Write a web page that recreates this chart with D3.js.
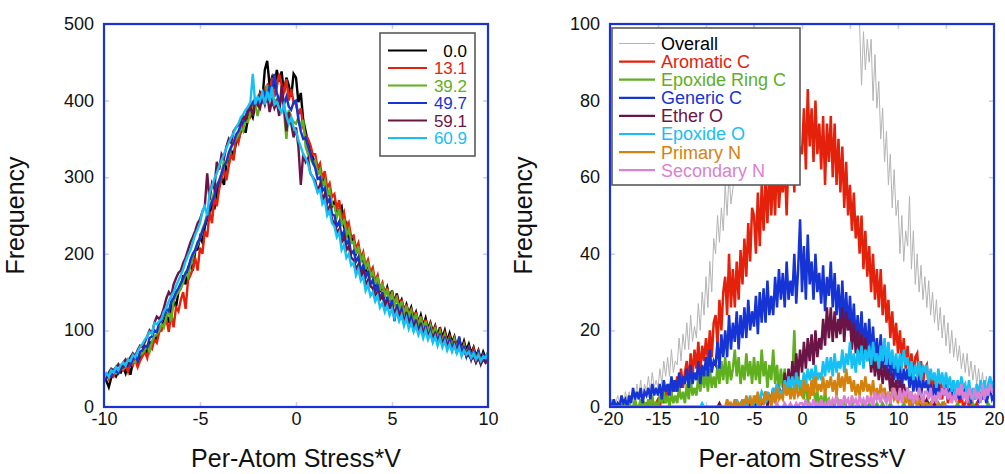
<!DOCTYPE html>
<html><head><meta charset="utf-8">
<script src="https://cdn.jsdelivr.net/npm/d3@7"></script>
<style>body{margin:0;background:#fff}svg{display:block;font-family:"Liberation Sans",Arial,Helvetica,sans-serif}</style>
</head><body><svg id="c" width="1005" height="474"></svg>
<script>
// ---------- LEFT PANEL DATA (bin centres from -10 to 10, step 0.125) ----------
const leftStart = -10, leftStep = 0.125;
const leftLabels = ["0.0", "13.1", "39.2", "49.7", "59.1", "60.9"];
const leftColors = ["#000000", "#e4220c", "#5faf1e", "#1634d4", "#6b1546", "#16c0f4"];
const left0 = [40,34,26,38,44,40,47,45, 52,44,56,42,58,62,55,66, 70,78,68,85,82,92,88,102, 105,112,120,110,128,140,130,150,
 155,172,160,182,188,178,204,206, 222,215,235,245,250,268,258,280, 290,300,290,318,322,335,328,345, 348,360,370,358,378,385,378,395,
 398,410,402,440,452,420,430,415, 440,425,438,410,430,420,405,435, 430,398,410,375,360,345,338,325, 320,305,312,290,300,275,282,262,
 268,250,258,262,236,240,220,222, 215,200,208,198,192,176,190,170, 174,160,168,150,160,146,156,142, 152,136,148,134,140,126,134,122,
 130,116,124,110,120,106,116,102, 110,98,106,92,104,90,100,86, 96,84,92,78,90,76,86,74, 82,70,78,66,74,62,72,64, 70];
const left1 = [38,42,36,44,40,48,44,50, 48,55,46,58,54,62,52,60, 66,72,64,80,76,88,84,98, 100,108,115,98,122,104,130,125,
 140,150,128,165,172,180,195,178, 208,200,230,222,255,240,275,262, 285,298,310,296,315,330,322,352, 345,362,368,375,388,380,392,398,
 395,408,400,415,420,410,430,405, 418,435,420,412,428,400,415,398, 395,382,390,365,355,350,342,330, 330,312,318,298,308,286,292,274,
 278,258,270,246,254,232,240,222, 224,206,214,194,202,184,192,176, 182,164,172,154,162,146,156,140, 150,134,146,128,140,124,134,118,
 128,112,124,106,118,102,114,98, 108,94,104,90,100,86,96,84, 92,80,90,76,86,72,82,70, 78,66,76,62,72,58,68,62, 64];
const left2 = [36,40,38,42,46,44,48,52, 50,56,62,55,60,58,64,68, 70,75,80,72,86,92,95,100, 108,104,118,125,112,138,145,150,
 155,162,175,170,185,195,205,212, 220,232,240,252,262,270,282,290, 296,305,322,318,328,338,345,350, 355,365,360,375,372,385,390,395,
 380,395,410,400,420,405,412,398, 402,395,410,385,350,388,378,372, 370,378,365,375,340,330,325,318, 322,304,310,288,296,276,284,264,
 262,248,258,236,246,224,232,214, 216,200,210,190,198,180,190,170, 176,160,170,152,162,144,154,138, 148,134,142,126,138,120,132,118,
 126,110,122,104,118,100,112,98, 106,92,104,88,98,84,94,82, 90,78,88,74,84,70,80,68, 76,64,72,60,70,56,66,64, 72];
const left3 = [34,38,42,40,45,48,44,50, 52,54,60,55,62,68,60,72, 74,80,78,90,92,100,98,110, 112,120,128,125,138,142,150,155,
 162,168,175,180,192,200,205,215, 220,230,238,248,260,268,275,288, 295,305,315,320,332,340,345,355, 360,368,372,380,388,392,398,402,
 395,405,400,410,398,420,408,435, 410,400,402,395,405,392,388,398, 400,375,360,350,352,340,330,320, 312,298,300,282,286,266,272,252,
 250,236,242,222,230,212,218,200, 204,190,196,176,186,168,178,160, 166,150,160,140,150,132,144,128, 140,112,134,120,128,108,124,110,
 118,104,114,98,110,94,106,90, 100,86,98,82,96,80,92,78, 88,74,86,70,92,68,80,66, 76,62,72,60,70,58,68,58, 62];
const left4 = [36,40,45,50,48,52,56,50, 58,62,56,65,70,66,74,80, 78,85,92,100,96,110,118,115, 120,130,142,150,145,160,168,175,
 178,188,195,205,215,222,230,240, 245,255,262,305,270,292,285,320, 310,330,325,340,350,345,360,365, 368,372,380,375,385,392,380,400,
 395,390,405,395,410,385,400,390, 398,380,420,395,360,385,370,352, 365,340,290,330,320,325,305,300, 295,282,290,270,278,256,262,245,
 240,228,232,215,222,205,210,195, 192,180,186,170,178,160,166,158, 155,146,150,140,145,132,138,130, 132,124,128,118,124,112,120,110,
 112,104,110,100,106,96,102,95, 98,90,96,86,92,84,88,80, 84,76,82,72,78,70,74,66, 68,62,66,58,64,56,62,58, 60];
const left5 = [38,44,40,48,45,52,48,55, 58,54,62,60,68,65,72,78, 82,88,92,98,95,110,108,112, 115,125,130,138,145,150,158,165,
 172,180,190,198,205,215,225,232, 240,255,262,250,280,288,298,305, 315,322,330,338,345,352,358,365, 370,378,382,388,392,398,435,395,
 405,400,410,395,412,400,418,395, 398,390,385,395,380,370,378,365, 360,348,340,330,325,318,305,300, 290,280,284,265,270,250,256,240,
 236,222,228,205,212,195,200,185, 188,172,180,165,170,152,160,145, 150,138,145,130,136,124,132,120, 128,116,124,112,120,106,116,102,
 110,98,106,94,102,90,100,88, 96,84,92,80,90,78,86,74, 82,72,80,70,78,66,74,68, 72,64,70,62,68,60,66,64, 70];
const leftXTicks = [-10, -5, 0, 5, 10];
const leftYTicks = [0, 100, 200, 300, 400, 500];

// ---------- RIGHT PANEL DATA (bin centres from -20 to 20, step 0.2) ----------
const rightStart = -20, rightStep = 0.2;
const rightLabels = ["Overall", "Aromatic C", "Epoxide Ring C", "Generic C", "Ether O", "Epoxide O", "Primary N", "Secondary N"];
const rightColors = ["#b4b4b4", "#e4220c", "#5faf1e", "#1634d4", "#6b1546", "#16c0f4", "#d4820e", "#dc80d4"];
const rightTextColors = ["#000000", "#e4220c", "#5faf1e", "#1634d4", "#6b1546", "#16c0f4", "#d4820e", "#dc80d4"];
const overall = [0,2,0,1,3, 1,3,0,4,2, 4,1,5,2,6, 3,7,2,6,4, 8,4,9,5,7, 5,10,6,12,8, 13,8,15,9,12, 11,18,12,19,15,
 22,15,24,17,21, 18,27,20,30,24, 34,26,38,30,44, 40,50,43,52,46, 58,50,61,53,57, 62,70,60,75,68, 82,90,78,95,88,
 102,110,105,118,108, 120,128,118,132,125, 135,140,130,145,138, 142,150,140,155,148, 152,160,150,165,155,
 158,168,155,170,162, 165,172,160,170,158, 160,165,152,162,150, 150,145,140,148,136, 132,140,128,135,120,
 125,112,118,106,110, 100,84,98,88,96, 90,96,80,92,78, 85,70,78,64,72, 58,66,52,62,50, 54,40,50,38,46,
 42,55,36,46,32, 40,30,37,28,34, 26,33,24,30,22, 28,20,26,18,24, 16,22,14,20,13, 18,12,16,10,14,
 9,14,8,12,7, 11,6,10,5,9, 4,8,3,7,5, 4];
const aromaticC = [0,0,0,0,0, 0,0,0,0,0, 0,0,0,1,0, 0,1,0,0,1, 1,0,2,0,1, 2,0,4,1,5, 2,6,3,7,4, 8,4,10,5,9,
 12,6,14,8,15, 10,17,9,16,12, 18,12,20,13,22, 24,16,28,20,30, 34,24,40,26,36, 26,38,28,41,32, 44,34,48,38,52,
 50,40,56,42,58, 46,60,48,62,50, 62,50,66,52,60, 56,64,50,66,58, 70,56,74,60,68,
 66,78,62,83,68, 78,64,80,66,74, 62,76,58,74,64, 76,60,74,58,70, 56,68,52,64,50,
 58,46,56,44,50, 40,50,36,46,34, 42,30,40,28,36, 26,36,24,32,22, 28,18,25,16,22, 14,20,12,18,10,
 16,9,14,8,13, 14,7,12,6,10, 11,5,9,4,8, 7,3,8,2,6, 5,1,4,2,3, 2,4,1,3,0,
 1,2,0,1,0, 0,1,0,0,0, 0,0,0,0,0, 0];
const epoxideRingC = [0,1,0,0,1, 0,0,2,0,0, 1,0,0,2,0, 0,2,0,1,0, 2,0,3,0,1, 0,3,1,4,1, 3,0,4,1,3, 1,5,2,4,1,
 6,2,7,3,5, 3,8,4,9,5, 9,4,10,5,8, 5,11,6,12,7, 13,6,12,7,10, 15,8,13,6,11, 7,14,8,12,6,
 13,7,12,6,15, 8,12,5,11,7, 15,6,11,4,10, 5,10,3,9,4, 8,20,5,10,3,
 7,2,8,1,5, 3,6,1,4,0, 3,0,4,1,2, 0,2,0,3,1, 1,0,2,0,0,
 0,1,0,0,1, 0,0,1,0,0, 1,0,0,0,1, 0,0,1,0,0, 0,1,0,0,0, 0,0,0,1,0,
 0,0,1,0,0, 0,0,0,0,1, 0,1,0,0,0, 0,0,0,1,0, 0,0,0,0,0, 0,1,0,0,0,
 0,0,0,0,1, 0,0,0,0,0, 0,0,1,0,0, 0];
const genericC = [1,0,2,0,1, 0,3,1,2,0, 3,1,5,2,4, 2,5,1,4,3, 5,2,6,3,5, 3,6,2,7,4, 6,3,8,4,7, 4,9,5,8,6,
 10,5,11,6,9, 7,12,6,11,8, 13,8,15,9,12, 11,17,10,19,13, 20,13,24,15,22, 17,25,15,24,18, 26,18,28,20,25,
 21,29,19,30,22, 31,22,33,24,29, 24,34,26,36,28, 35,26,38,28,33, 29,40,27,36,49,
 30,42,28,45,32, 38,28,40,30,35, 27,37,25,34,29, 38,26,35,24,32, 22,33,21,30,20,
 29,19,27,17,24, 16,25,15,22,14, 23,13,21,12,18, 11,19,10,17,9, 15,8,13,7,12, 6,11,5,10,7,
 10,5,9,4,8, 4,8,3,7,5, 7,3,6,2,6, 3,6,2,5,3, 6,2,5,3,7, 3,5,2,6,3,
 5,2,4,1,4, 2,5,1,4,2, 4,1,3,5,2, 3];
const etherO = [0,0,0,0,0, 0,0,0,0,0, 0,0,0,0,0, 0,0,0,0,0, 0,0,0,0,0, 0,0,0,0,0, 0,0,0,0,0, 0,0,0,0,0,
 0,0,0,0,0, 0,0,0,0,0, 0,0,0,0,0, 0,0,1,0,0, 0,0,0,0,0, 0,1,0,0,1, 0,2,0,1,0,
 2,0,3,0,1, 1,4,0,3,2, 5,1,6,2,4, 3,9,4,10,5, 12,6,14,8,15,
 9,17,10,18,12, 19,11,20,13,18, 15,23,16,26,18, 26,17,25,18,23, 19,26,17,25,20,
 23,15,22,14,20, 13,19,11,18,12, 16,9,14,8,13, 7,12,6,11,7, 10,4,9,3,7, 3,7,2,6,3,
 5,1,4,1,3, 1,3,0,2,1, 2,0,1,0,1, 0,1,0,0,1, 0,0,0,0,0, 0,0,0,0,0,
 0,0,0,0,0, 0,0,0,0,0, 0,0,0,0,0, 0];
const epoxideO = [0,0,0,0,0, 0,0,0,0,0, 0,0,0,0,0, 0,0,0,0,0, 0,0,0,0,0, 0,0,0,0,0, 0,0,0,0,0, 0,0,0,0,0,
 0,0,0,0,0, 0,0,0,1,0, 0,0,0,0,0, 0,0,0,0,0, 0,0,1,0,0, 0,2,0,1,0, 2,0,1,3,0,
 1,3,0,2,4, 3,1,4,2,1, 5,2,6,3,4, 3,7,4,8,5, 8,4,9,5,7,
 5,9,6,10,7, 10,6,11,7,9, 7,12,8,13,9, 13,8,14,9,12, 10,15,9,14,11,
 17,10,14,9,15, 11,16,10,15,12, 16,11,17,12,14, 10,16,12,18,11, 17,11,15,10,14, 9,14,10,15,11,
 13,8,12,7,11, 8,12,7,11,9, 11,6,10,7,9, 5,10,6,9,5, 9,5,8,4,7, 3,7,4,8,5,
 6,3,7,2,5, 2,6,3,7,4, 7,3,6,8,5, 7];
const primaryN = [0,0,0,0,0, 0,0,0,0,0, 0,0,0,0,0, 0,0,0,0,0, 0,0,0,0,0, 0,0,0,0,0, 0,0,0,0,0, 0,0,0,0,0,
 0,0,0,0,0, 0,0,0,0,0, 0,0,0,0,0, 0,0,0,0,0, 0,2,0,1,0, 2,0,1,0,2, 0,3,1,2,0,
 3,1,4,0,2, 1,4,2,3,0, 4,1,5,2,3, 2,6,3,5,2, 5,2,6,3,4,
 3,7,4,6,2, 7,3,8,4,6, 4,8,3,7,5, 8,4,7,3,9, 5,8,4,10,6,
 8,4,7,3,6, 3,7,4,8,4, 6,3,7,2,5, 2,6,3,5,2, 4,1,5,2,3, 1,4,2,3,1,
 3,0,2,1,2, 0,2,1,0,1, 1,0,1,0,0, 0,1,0,0,1, 0,0,0,0,0, 0,0,0,0,0,
 0,0,0,0,0, 0,0,0,0,0, 0,0,0,0,0, 0];
const secondaryN = [0,0,0,0,0, 0,0,0,0,0, 0,0,0,0,0, 0,0,0,0,0, 0,0,0,0,0, 0,0,0,0,0, 0,0,0,0,0, 0,0,0,0,0,
 0,0,0,0,0, 0,0,0,0,0, 0,0,0,0,0, 0,0,0,0,0, 0,0,0,0,0, 0,0,0,0,0, 0,0,0,0,0,
 0,0,0,0,0, 0,0,0,0,0, 0,0,1,0,0, 0,1,0,0,1, 0,0,1,0,1,
 1,0,2,0,1, 0,2,0,1,0, 2,0,1,0,2, 0,2,1,3,0, 2,0,3,1,2,
 0,3,1,2,0, 3,1,2,0,3, 1,3,0,4,2, 3,1,4,2,1, 4,1,3,5,2, 2,5,1,4,3,
 5,2,4,1,3, 2,5,3,1,4, 4,2,5,1,3, 1,4,2,5,3, 5,2,4,1,3, 2,5,3,6,2,
 4,1,5,3,2, 5,2,4,1,6, 2,5,3,6,4, 4];
const rightXTicks = [-20, -15, -10, -5, 0, 5, 10, 15, 20];
const rightYTicks = [0, 20, 40, 60, 80, 100];

// ---------- DRAWING ----------
const svg = d3.select("#c");
svg.append("rect").attr("width", 1005).attr("height", 474).attr("fill", "#fff");
const fmt = d => String(d);

function panel(cfg) {
  const x = d3.scaleLinear().domain(cfg.xDomain).range([cfg.x0, cfg.x1]);
  const y = d3.scaleLinear().domain(cfg.yDomain).range([cfg.y1, cfg.y0]);
  const g = svg.append("g");
  g.append("clipPath").attr("id", cfg.id + "clip").append("rect")
    .attr("x", cfg.x0).attr("y", cfg.y0).attr("width", cfg.x1 - cfg.x0).attr("height", cfg.y1 - cfg.y0);

  const tickCol = "#c6cff2";
  const xi = cfg.xTicks.slice(1, -1), yi = cfg.yTicks.slice(1, -1);
  const inner = [
    [d3.axisBottom(x).tickValues(xi), `translate(0,${cfg.y1})`],
    [d3.axisTop(x).tickValues(xi), `translate(0,${cfg.y0})`],
    [d3.axisLeft(y).tickValues(yi), `translate(${cfg.x0},0)`],
    [d3.axisRight(y).tickValues(yi), `translate(${cfg.x1},0)`]
  ];
  inner.forEach(([ax, tr]) => {
    const a = g.append("g").attr("transform", tr).call(ax.tickSize(-5).tickFormat(""));
    a.select(".domain").remove();
    a.selectAll("line").attr("stroke", tickCol).attr("stroke-width", 1.6);
  });

  const lines = g.append("g").attr("clip-path", `url(#${cfg.id}clip)`);
  cfg.series.forEach((s, k) => {
    const line = d3.line().x((d, i) => x(cfg.start + i * cfg.step)).y(d => y(d));
    lines.append("path").datum(s).attr("fill", "none")
      .attr("stroke", cfg.colors[k]).attr("stroke-width", cfg.widths[k])
      .attr("stroke-linejoin", "miter").attr("d", line);
  });

  const bx = g.append("g").attr("transform", `translate(0,${cfg.y1})`)
    .call(d3.axisBottom(x).tickValues(cfg.xTicks).tickSize(0).tickPadding(5).tickFormat(fmt));
  const ly = g.append("g").attr("transform", `translate(${cfg.x0},0)`)
    .call(d3.axisLeft(y).tickValues(cfg.yTicks).tickSize(0).tickPadding(10).tickFormat(fmt));
  [bx, ly].forEach(a => {
    a.select(".domain").remove();
    a.selectAll("text").attr("font-size", 18).attr("fill", "#111")
      .attr("font-family", '"Liberation Sans", Arial, sans-serif');
  });
  ly.selectAll("text").attr("dy", "0.3em");

  const L = cfg.legend;
  const lg = g.append("g");
  lg.append("rect").attr("x", L.x).attr("y", L.y).attr("width", L.w).attr("height", L.h)
    .attr("fill", "#fff").attr("stroke", "#5a5a5a").attr("stroke-width", 1.6);
  cfg.labels.forEach((lab, k) => {
    const yy = L.row0 + k * L.dy;
    lg.append("line").attr("x1", L.lx1).attr("x2", L.lx2).attr("y1", yy).attr("y2", yy)
      .attr("stroke", cfg.colors[k]).attr("stroke-width", cfg.legendWidths[k]);
    lg.append("text").attr("x", L.tx).attr("y", yy).attr("dy", "0.36em")
      .attr("text-anchor", L.anchor).attr("font-size", L.fs).attr("fill", cfg.textColors[k]).text(lab);
  });

  g.append("rect").attr("x", cfg.x0).attr("y", cfg.y0).attr("width", cfg.x1 - cfg.x0).attr("height", cfg.y1 - cfg.y0)
    .attr("fill", "none").attr("stroke", "#1a30d8").attr("stroke-width", 2.2);

  g.append("text").attr("x", (cfg.x0 + cfg.x1) / 2).attr("y", 467).attr("text-anchor", "middle")
    .attr("font-size", 25).attr("fill", "#111").text(cfg.xTitle);
  g.append("text").attr("transform", `translate(${cfg.yTitleX},${(cfg.y0 + cfg.y1) / 2}) rotate(-90)`)
    .attr("text-anchor", "middle").attr("font-size", 25).attr("fill", "#111").text("Frequency");
}

panel({
  id: "L", x0: 104, x1: 488, y0: 24, y1: 407,
  xDomain: [-10, 10], yDomain: [0, 500], xTicks: leftXTicks, yTicks: leftYTicks,
  start: leftStart, step: leftStep,
  series: [left0, left1, left2, left3, left4, left5],
  colors: leftColors, textColors: leftColors, widths: [2.4, 2.4, 2.4, 2.4, 2.4, 2.4], legendWidths: [2, 2, 2, 2, 2, 2],
  labels: leftLabels,
  legend: { x: 380, y: 33, w: 95, h: 123, row0: 50.5, dy: 17.5, lx1: 388, lx2: 427, tx: 467, anchor: "end", fs: 17 },
  xTitle: "Per-Atom Stress*V", yTitleX: 24
});

panel({
  id: "R", x0: 610, x1: 994, y0: 24, y1: 407,
  xDomain: [-20, 20], yDomain: [0, 100], xTicks: rightXTicks, yTicks: rightYTicks,
  start: rightStart, step: rightStep,
  series: [overall, aromaticC, epoxideRingC, genericC, etherO, epoxideO, primaryN, secondaryN],
  colors: rightColors, textColors: rightTextColors, widths: [1, 2.5, 2.5, 2.5, 2.5, 2.5, 2.5, 2.5],
  legendWidths: [1, 2.2, 2.2, 2.2, 2.2, 2.2, 2.2, 2.2],
  labels: rightLabels,
  legend: { x: 612, y: 28, w: 188, h: 157, row0: 43.5, dy: 18.1, lx1: 619, lx2: 655, tx: 661, anchor: "start", fs: 18 },
  xTitle: "Per-atom Stress*V", yTitleX: 532
});
</script></body></html>
